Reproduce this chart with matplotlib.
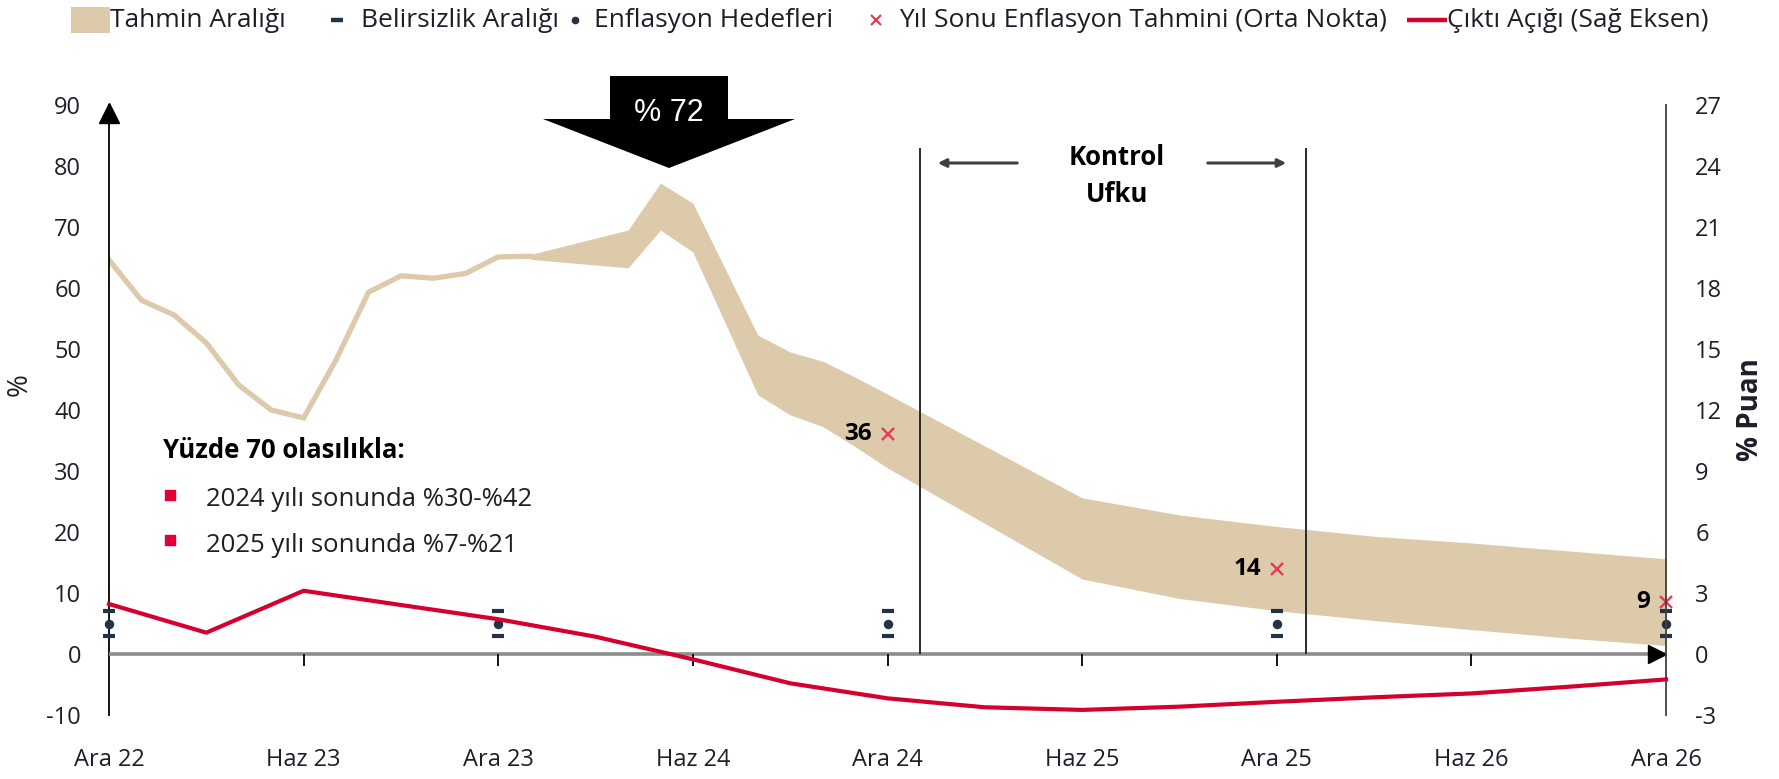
import matplotlib
matplotlib.use("Agg")
import matplotlib.pyplot as plt
from matplotlib.patches import Polygon, Rectangle

plt.rcParams['font.family'] = ['Open Sans', 'DejaVu Sans']
plt.rcParams['axes.unicode_minus'] = False

# ---------------- data ----------------
tick_months = [0, 6, 12, 18, 24, 30, 36, 42, 48]
tick_labels = ['Ara 22', 'Haz 23', 'Ara 23', 'Haz 24', 'Ara 24', 'Haz 25', 'Ara 25', 'Haz 26', 'Ara 26']

# realised annual inflation (%), months since Dec-22
hist_months = [0, 1, 2, 3, 4, 5, 6, 7, 8, 9, 10, 11, 12, 13]
hist_values = [64.6, 58.0, 55.6, 51.0, 44.1, 40.0, 38.7, 48.2, 59.3, 62.0, 61.6, 62.4, 65.1, 65.2]

# forecast band (%)
band_months = [13, 16, 17, 18, 20, 21, 22, 23, 24, 30, 33, 36, 39, 42, 45, 48]
band_low = [64.7, 63.3, 69.5, 65.9, 42.5, 39.2, 37.3, 34.0, 30.5, 12.3, 9.1, 7.1, 5.5, 4.0, 2.6, 1.4]
band_high = [65.5, 69.5, 77.2, 73.9, 52.3, 49.5, 48.0, 45.4, 42.6, 25.6, 22.8, 20.9, 19.3, 18.2, 16.9, 15.6]

# year-end forecast midpoints
mid_months = [24, 36, 48]
mid_values = [36.0, 14.0, 8.5]
mid_labels = ['36', '14', '9']

# inflation targets and uncertainty range
target_months = [0, 12, 24, 36, 48]
target_values = [5, 5, 5, 5, 5]
target_unc = [2, 2, 2, 2, 2]

# output gap (right axis, % points)
gap_months = [0, 3, 6, 9, 12, 15, 18, 21, 24, 27, 30, 33, 36, 39, 42, 45, 48]
gap_values = [2.46, 1.05, 3.11, 2.41, 1.71, 0.85, -0.26, -1.44, -2.18, -2.62, -2.75, -2.59,
              -2.35, -2.13, -1.94, -1.61, -1.25]

control_start, control_end = 25, 36.9

left_ticks = list(range(-10, 91, 10))
right_ticks = list(range(-3, 28, 3))

legend_labels = ['Tahmin Aralığı', 'Belirsizlik Aralığı', 'Enflasyon Hedefleri',
                 'Yıl Sonu Enflasyon Tahmini (Orta Nokta)', 'Çıktı Açığı (Sağ Eksen)']
box_title = 'Yüzde 70 olasılıkla:'
box_lines = ['2024 yılı sonunda %30-%42', '2025 yılı sonunda %7-%21']
peak_text = '% 72'

# ---------------- style ----------------
TAN = '#dccaab'
RED = '#d4002e'
XRED = '#e43a55'
NAVY = '#203347'
TXT = '#1e1e28'

W, H = 1779, 779
fig = plt.figure(figsize=(W / 100, H / 100), dpi=100)

L, R, B, T = 109, 1666, 715, 105
ax = fig.add_axes([L / W, (H - B) / H, (R - L) / W, (B - T) / H])
ax.set_xlim(0, 48)
ax.set_ylim(-10, 90)
ax2 = ax.twinx()
ax2.set_ylim(-3, 27)

for a in (ax, ax2):
    for s in a.spines.values():
        s.set_visible(False)
ax.spines['left'].set_visible(True)
ax.spines['left'].set_color('black')
ax.spines['left'].set_linewidth(1.3)
ax2.spines['right'].set_visible(True)
ax2.spines['right'].set_color('#404040')
ax2.spines['right'].set_linewidth(1.3)

ax.set_xticks(tick_months)
ax.set_xticklabels(tick_labels)
ax.tick_params(axis='x', length=0, pad=23.5, labelsize=17, labelcolor=TXT)
ax.set_yticks(left_ticks)
ax.tick_params(axis='y', length=0, pad=20, labelsize=17, labelcolor=TXT)
ax2.set_yticks(right_ticks)
ax2.tick_params(axis='y', length=0, pad=21, labelsize=17, labelcolor=TXT)

# band and history
ax.fill_between(band_months, band_low, band_high, color=TAN, lw=0, zorder=2)
ax.plot(hist_months, hist_values, color=TAN, lw=3.8, solid_joinstyle='miter', zorder=2)

# zero line with arrow, axis arrow
ax.axhline(0, color='#8c8c8c', lw=2.6, zorder=3)
ax.vlines(tick_months[1:-1], -2, 0, color='black', lw=1.3, zorder=3)
ax.plot([47.72], [0], marker='>', ms=13.5, color='black', clip_on=False, zorder=6)
ax.plot([0], [88.7], marker='^', ms=14, color='black', clip_on=False, zorder=6)

# control horizon lines
ax.vlines([control_start, control_end], 0, 83, color='#2a2a2a', lw=1.4, zorder=3)

# targets with uncertainty caps
ax.errorbar(target_months, target_values, yerr=target_unc, fmt='o', ms=5.8, color=NAVY,
            elinewidth=0, capsize=4.3, capthick=3, clip_on=False, zorder=4)

# output gap
ax2.plot(gap_months, gap_values, color=RED, lw=3, zorder=5, clip_on=False)

# year-end midpoints
ax.plot(mid_months, mid_values, 'x', color=XRED, ms=9, mew=1.7, clip_on=False, zorder=6)
for m, v, lab in zip(mid_months, mid_values, mid_labels):
    ax.annotate(lab, (m, v), xytext=(-11.5, 0), textcoords='offset points', ha='right',
                va='center', fontsize=17.5, fontweight='bold', color='black', zorder=6)

# ---------------- overlay in pixel coordinates ----------------
ov = fig.add_axes([0, 0, 1, 1], zorder=10)
ov.set_xlim(0, W)
ov.set_ylim(H, 0)
ov.axis('off')

ov.text(20, 385, '%', rotation=90, ha='center', va='center', fontsize=20, color=TXT)
ov.text(1750, 410, '% Puan', rotation=90, ha='center', va='center', fontsize=20,
        fontweight='bold', color=TXT)

# legend
ly = 20
LFS = 19
ov.add_patch(Rectangle((71, 7), 39, 26, color=TAN, lw=0))
ov.text(110, ly, legend_labels[0], va='center', ha='left', fontsize=LFS, color=TXT)
ov.plot([331, 343], [ly, ly], color=NAVY, lw=3.2, solid_capstyle='butt')
ov.text(361, ly, legend_labels[1], va='center', ha='left', fontsize=LFS, color=TXT)
ov.plot([575], [ly], 'o', color=NAVY, ms=4.5)
ov.text(594, ly, legend_labels[2], va='center', ha='left', fontsize=LFS, color=TXT)
ov.plot([876], [ly], 'x', color=XRED, ms=7, mew=1.5)
ov.text(899, ly, legend_labels[3], va='center', ha='left', fontsize=LFS, color=TXT)
ov.plot([1407, 1447], [ly, ly], color=RED, lw=3.2, solid_capstyle='butt')
ov.text(1447, ly, legend_labels[4], va='center', ha='left', fontsize=LFS, color=TXT)

# peak arrow
ov.add_patch(Polygon([(610, 76), (728, 76), (728, 119), (795, 119), (669, 168),
                      (543, 119), (610, 119)], closed=True, color='black', lw=0))
ov.text(669, 113, peak_text, ha='center', va='center', fontsize=22, color='white',
        family=['Liberation Sans', 'DejaVu Sans'])

# control horizon label
ov.text(1117, 157, 'Kontrol', ha='center', va='center', fontsize=18.5, fontweight='bold', color='black')
ov.text(1117, 194, 'Ufku', ha='center', va='center', fontsize=18.5, fontweight='bold', color='black')
ov.annotate('', xy=(935, 163), xytext=(1020, 163),
            arrowprops=dict(arrowstyle='-|>', color='#404040', lw=2.2, mutation_scale=12))
ov.annotate('', xy=(1289, 163), xytext=(1205, 163),
            arrowprops=dict(arrowstyle='-|>', color='#404040', lw=2.2, mutation_scale=12))

# probability box
ov.text(163, 450, box_title, ha='left', va='center', fontsize=18.5, fontweight='bold', color='black')
for ys, yt, line in zip([495, 540], [500, 545], box_lines):
    ov.plot([170], [ys], 's', color='#e0003c', ms=7)
    ov.text(206, yt, line, ha='left', va='center', fontsize=18.5, color=TXT)

fig.savefig('out.png', dpi=100)
